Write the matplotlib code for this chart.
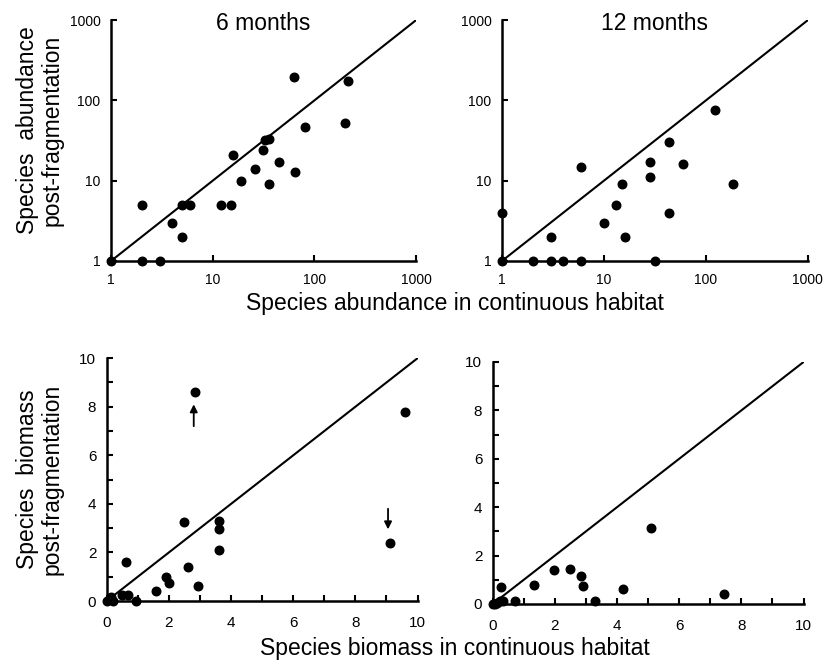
import matplotlib
matplotlib.use("Agg")
import matplotlib.pyplot as plt
from matplotlib.ticker import FixedLocator, FixedFormatter, MultipleLocator, NullLocator

plt.rcParams['font.family'] = ['Liberation Sans', 'DejaVu Sans']

# ---- data ----
abund6_cont = [1, 2, 2, 3, 4, 5, 5, 6, 12, 15, 16, 19, 26, 31, 33, 36, 36, 45, 63, 65, 81, 199, 213]
abund6_post = [1, 5, 1, 1, 3, 5, 2, 5, 5, 5, 21, 10, 14, 24, 32, 33, 9, 17, 193, 13, 47, 53, 176]

abund12_cont = [1, 1, 2, 3, 3, 4, 6, 6, 10, 13, 15, 16, 28, 28, 32, 43, 43, 59, 124, 183]
abund12_post = [1, 4, 1, 1, 2, 1, 1, 15, 3, 5, 9, 2, 17, 11, 1, 30, 4, 16, 75, 9]

bio6_cont = [0.0, 0.1, 0.2, 0.15, 0.63, 0.5, 0.7, 0.95, 1.6, 1.9, 2.0, 2.5, 2.6, 2.85, 2.95,
             3.6, 3.62, 3.62, 9.1, 9.6]
bio6_post = [0.0, 0.1, 0.0, 0.15, 1.6, 0.23, 0.23, 0.0, 0.43, 1.0, 0.76, 3.25, 1.4, 8.6, 0.6,
             2.95, 3.3, 2.1, 2.4, 7.8]

bio12_cont = [0.0, 0.08, 0.15, 0.24, 0.32, 0.27, 0.73, 1.33, 1.97, 2.5, 2.83, 2.9, 3.3, 4.2,
              5.08, 7.43]
bio12_post = [0.0, 0.0, 0.05, 0.14, 0.14, 0.7, 0.14, 0.8, 1.4, 1.45, 1.15, 0.75, 0.12, 0.62,
              3.15, 0.41]

titles = ["6 months", "12 months"]
log_ticks = [1, 10, 100, 1000]
log_labels = ["1", "10", "100", "1000"]
lin_ticks = [0, 2, 4, 6, 8, 10]

# arrows in 6-month biomass panel: (x, y_start, y_end)
arrow_up = (2.8, 7.2, 8.1)
arrow_down = (9.05, 3.8, 2.95)

fig = plt.figure(figsize=(8.29, 6.69), dpi=100)

ax_tl = fig.add_axes([0.1339, 0.6099, 0.368, 0.360])
ax_tr = fig.add_axes([0.6055, 0.6099, 0.369, 0.360])
ax_bl = fig.add_axes([0.1287, 0.1016, 0.375, 0.363])
ax_br = fig.add_axes([0.5943, 0.0972, 0.375, 0.3617])

def style(ax, labelsize, xpad):
    for s in ['top', 'right']:
        ax.spines[s].set_visible(False)
    for s in ['left', 'bottom']:
        ax.spines[s].set_linewidth(1.8)
    ax.tick_params(direction='in', length=4, width=1.5, labelsize=labelsize, which='both')
    ax.tick_params(axis='y', pad=7.5, which='both')
    ax.tick_params(axis='x', pad=xpad, which='both')

for ax, xc, yc, t in [(ax_tl, abund6_cont, abund6_post, titles[0]),
                      (ax_tr, abund12_cont, abund12_post, titles[1])]:
    ax.set_xscale('log')
    ax.set_yscale('log')
    ax.set_xlim(1, 1000)
    ax.set_ylim(1, 1000)
    ax.plot([1, 1000], [1, 1000], color='black', lw=1.5)
    ax.scatter(xc, yc, s=38, color='black', zorder=3, clip_on=False)
    ax.xaxis.set_major_locator(FixedLocator(log_ticks))
    ax.xaxis.set_major_formatter(FixedFormatter(log_labels))
    ax.yaxis.set_major_locator(FixedLocator(log_ticks))
    ax.yaxis.set_major_formatter(FixedFormatter(log_labels))
    ax.xaxis.set_minor_locator(NullLocator())
    ax.yaxis.set_minor_locator(NullLocator())
    style(ax, 10, 8.5)
    ax.text(0.5, 0.985, t, transform=ax.transAxes, ha='center', va='center', fontsize=16.5)

for ax, xc, yc in [(ax_bl, bio6_cont, bio6_post), (ax_br, bio12_cont, bio12_post)]:
    ax.set_xlim(0, 10)
    ax.set_ylim(0, 10)
    ax.plot([0, 10], [0, 10], color='black', lw=1.5)
    ax.scatter(xc, yc, s=38, color='black', zorder=3, clip_on=False)
    ax.set_xticks(lin_ticks)
    ax.set_yticks(lin_ticks)
    ax.xaxis.set_minor_locator(MultipleLocator(1))
    ax.yaxis.set_minor_locator(MultipleLocator(1))
    style(ax, 11, 11)

for (xa, y0, y1) in [arrow_up, arrow_down]:
    ax_bl.annotate('', xy=(xa, y1), xytext=(xa, y0),
                   arrowprops=dict(arrowstyle='-|>', color='black', lw=1.3,
                                   mutation_scale=11, shrinkA=0, shrinkB=0))

fig.text(0.048, 0.805, "Species  abundance\npost-fragmentation", rotation=90,
         ha='center', va='center', fontsize=16.5, linespacing=1.05)
fig.text(0.048, 0.283, "Species  biomass\npost-fragmentation", rotation=90,
         ha='center', va='center', fontsize=16.5, linespacing=1.05)
fig.text(0.549, 0.547, "Species abundance in continuous habitat", ha='center', va='center',
         fontsize=16.5)
fig.text(0.549, 0.031, "Species biomass in continuous habitat", ha='center', va='center',
         fontsize=16.5)

fig.savefig("out.png", dpi=100)
